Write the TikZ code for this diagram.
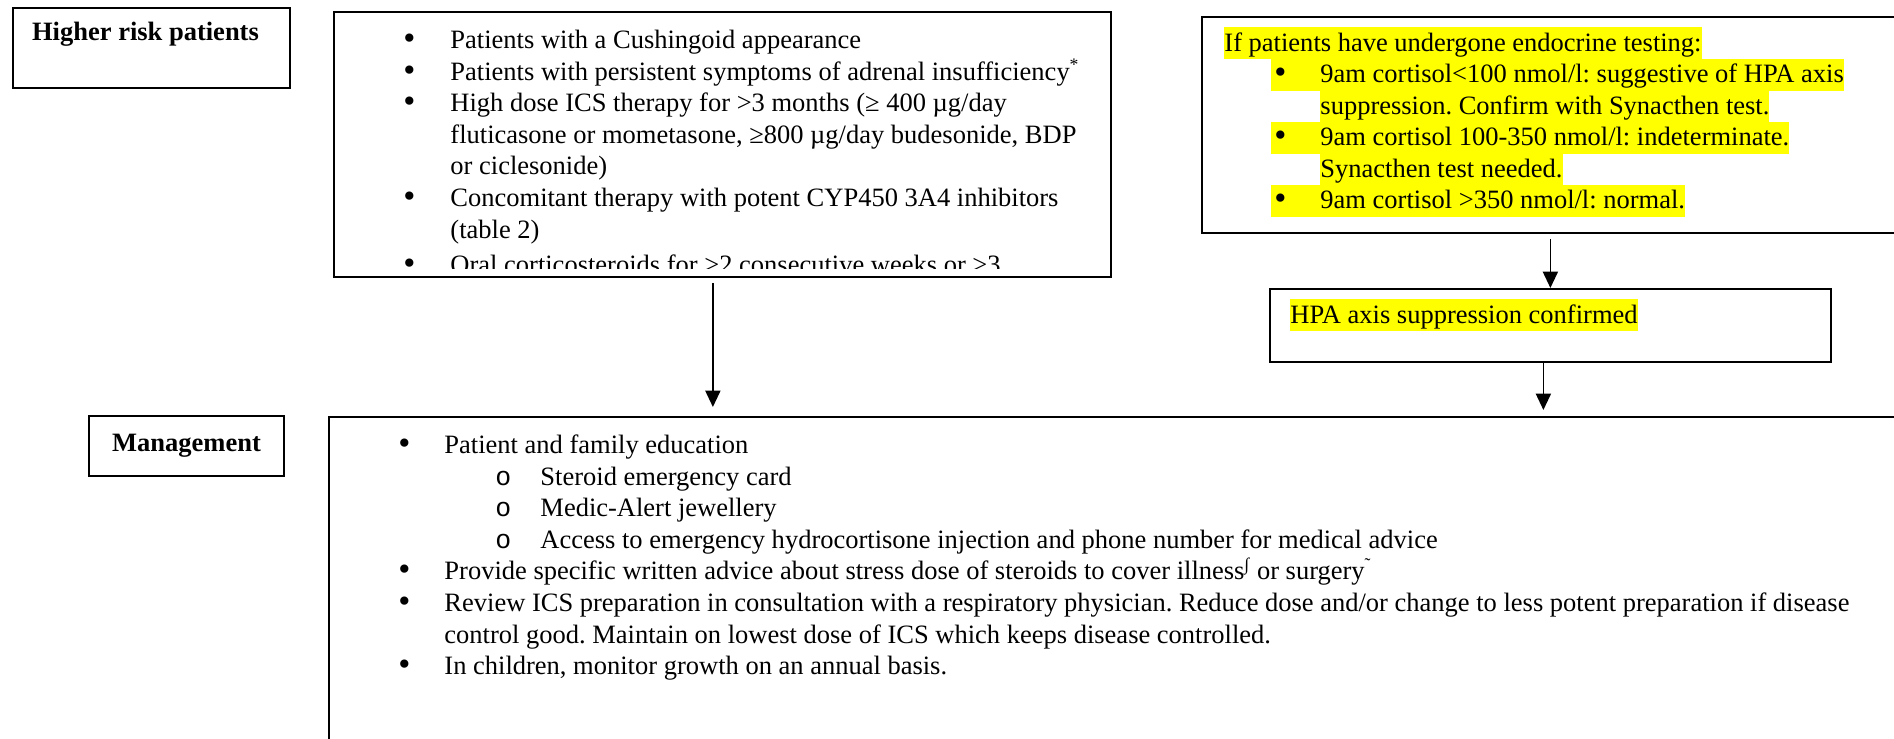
\documentclass[tikz,border=0pt]{standalone}
\usepackage{fontspec}
\setmainfont{Liberation Serif}
\setmonofont{Liberation Mono}
\usepackage{graphicx}
\usepackage{xcolor}
\usetikzlibrary{arrows.meta,calc,positioning}

\definecolor{hlyel}{RGB}{255,255,0}
\newlength\pxu
\setlength\pxu{0.4528pt}
\newcommand\lnstrut{\rule[-3.6pt]{0pt}{14.3pt}}
\newcommand\hl[1]{{\setlength\fboxsep{0pt}\colorbox{hlyel}{\lnstrut#1}}}
\newcommand\bdot{\raisebox{-0.4pt}{\scalebox{1.3}{\textbullet}}}
\newcommand\bitem[2]{\lnstrut\makebox[#1\pxu][l]{\bdot}#2}
\newcommand\citem[2]{\lnstrut\hspace*{#1\pxu}#2}
\newcommand\sitem[3]{\lnstrut\hspace*{#1\pxu}\makebox[#2\pxu][l]{\ttfamily o}#3}
\frenchspacing

\begin{document}
\begin{tikzpicture}[
    x=0.4528pt, y=-0.4528pt,
    font=\fontsize{12}{14.3}\selectfont,
    box/.style={draw, line width=0.8pt, inner sep=0pt, anchor=north west},
    lbl/.style={draw, line width=0.8pt, inner sep=0pt, font=\fontsize{12}{14.3}\selectfont\bfseries},
    txt/.style={inner sep=0pt, anchor=north west, align=left},
    arr/.style={-{Triangle[length=7.4pt,width=6.8pt]}, line width=0.8pt}
  ]
    \useasboundingbox (0,0) rectangle (1894,739);
    \clip (0,0) rectangle (1894,739);
    % left column labels
    \node[box, minimum width=277\pxu, minimum height=80\pxu] (hr) at (12,7) {};
    \node[anchor=base, inner sep=0pt, font=\fontsize{12}{14.3}\selectfont\bfseries] (hrt) at (145.5,41) {Higher risk patients};
    \node[lbl, minimum width=195\pxu, minimum height=60\pxu] (mlab) at (186.5,446) {Management};
    % boxes
    \node[box, minimum width=777\pxu, minimum height=265\pxu] (b1) at (333,11) {};
    \node[box, minimum width=710\pxu, minimum height=216\pxu] (tst) at (1201,16) {};
    \node[box, minimum width=561\pxu, minimum height=73\pxu] (hpa) at (1269,288) {};
    \node[box, minimum width=1590\pxu, minimum height=340\pxu] (mg) at (328,416) {};
    % texts
    \begin{scope}
      \clip (b1.north west) rectangle ([yshift=9\pxu]b1.south east);
      \node[txt] (b1t) at (403,24.5) {%
        \bitem{47}{Patients with a Cushingoid appearance}\\
        \bitem{47}{Patients with persistent symptoms of adrenal insufficiency\textsuperscript{*}}\\
        \bitem{47}{High dose ICS therapy for >3 months (≥ 400 µg/day}\\
        \citem{47}{fluticasone or mometasone, ≥800 µg/day budesonide, BDP}\\
        \citem{47}{or ciclesonide)}\\
        \bitem{47}{Concomitant therapy with potent CYP450 3A4 inhibitors}\\
        \citem{47}{(table 2)}\\[4\pxu]
        \bitem{47}{Oral corticosteroids for >2 consecutive weeks or >3}};
    \end{scope}
    \node[txt] (tstt) at (1224,27) {%
      \hl{If patients have undergone endocrine testing:}\\
      \hspace*{47\pxu}\hl{\makebox[49\pxu][l]{\hspace{3\pxu}\bdot}9am cortisol<100 nmol/l: suggestive of HPA axis}\\
      \hspace*{96\pxu}\hl{suppression. Confirm with Synacthen test.}\\
      \hspace*{47\pxu}\hl{\makebox[49\pxu][l]{\hspace{3\pxu}\bdot}9am cortisol 100-350 nmol/l: indeterminate.}\\
      \hspace*{96\pxu}\hl{Synacthen test needed.}\\
      \hspace*{47\pxu}\hl{\makebox[49\pxu][l]{\hspace{3\pxu}\bdot}9am cortisol >350 nmol/l: normal.}};
    \node[txt] (hpat) at (1290,299) {\hl{HPA axis suppression confirmed}};
    \node[txt] (mgt) at (398,429.5) {%
      \bitem{46}{Patient and family education}\\
      \sitem{97}{45}{Steroid emergency card}\\
      \sitem{97}{45}{Medic-Alert jewellery}\\
      \sitem{97}{45}{Access to emergency hydrocortisone injection and phone number for medical advice}\\
      \bitem{46}{Provide specific written advice about stress dose of steroids to cover illness\textsuperscript{∫} or surgery\textsuperscript{˜}}\\
      \bitem{46}{Review ICS preparation in consultation with a respiratory physician. Reduce dose and/or change to less potent preparation if disease}\\
      \citem{46}{control good. Maintain on lowest dose of ICS which keeps disease controlled.}\\
      \bitem{46}{In children, monitor growth on an annual basis.}};
    % connectors
    \coordinate (a1) at ($(b1.south)+(-9.5,5)$);
    \draw[arr, shorten >=9\pxu] (a1) -- (a1 |- mg.north);
    \draw[arr, shorten <=5\pxu] (hpa.north |- tst.south) -- (hpa.north);
    \coordinate (a3) at ($(hpa.south)+(-7,0)$);
    \draw[arr, shorten >=6\pxu] (a3) -- (a3 |- mg.north);
  \end{tikzpicture}
\end{document}
